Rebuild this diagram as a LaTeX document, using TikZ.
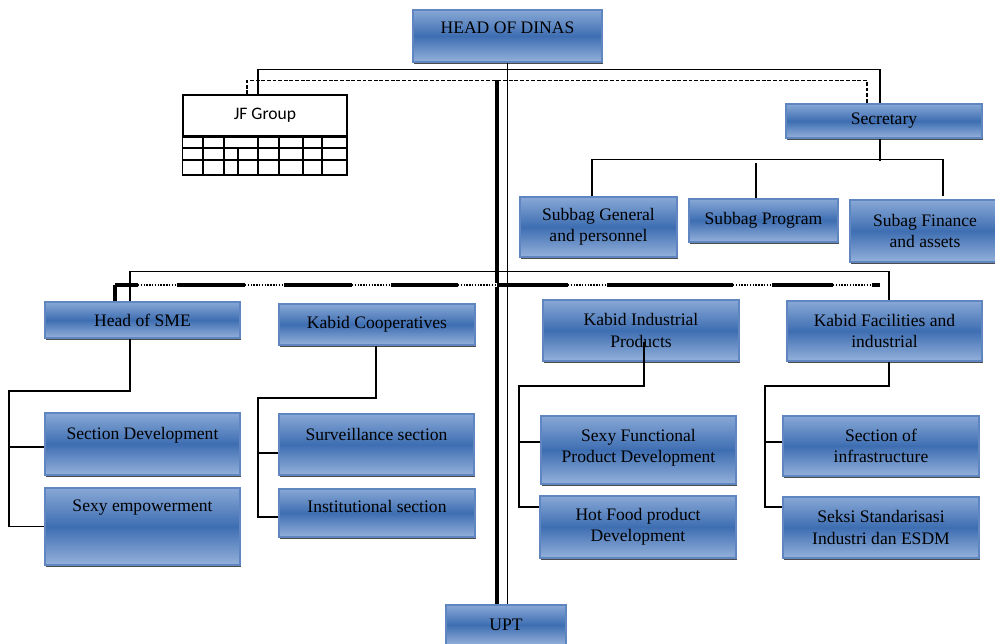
\documentclass[tikz,border=0pt]{standalone}
\usepackage{fontspec}
\setmainfont{Liberation Serif}
\newfontfamily\jffont{Carlito}
\usepackage{xcolor}
\usepackage{tikz}
\usetikzlibrary{calc,shadows}
\definecolor{boxmid}{RGB}{62,110,178}
\definecolor{boxlight}{RGB}{136,168,214}
\definecolor{boxedge}{RGB}{96,134,194}
\tikzset{
  unitbox/.style={rectangle, draw=boxedge, line width=0.6pt, top color=boxlight, bottom color=boxlight!90!white, middle color=boxmid, align=center, inner sep=2pt, font=\fontsize{10}{12}\selectfont, drop shadow={shadow xshift=0.8pt, shadow yshift=-0.9pt, fill=black!70, opacity=1}},
  conn/.style={draw=black, line width=0.85pt},
  thickconn/.style={draw=black, line width=1.9pt},
  dashconn/.style={draw=black, line width=0.85pt, dash pattern=on 2.2pt off 1pt},
  dotbus/.style={draw=black, line width=1.6pt, dash pattern=on 0.8pt off 0.8pt},
}

\begin{document}
\begin{tikzpicture}[x=0.02cm, y=-0.02cm]
  \useasboundingbox (0,0) rectangle (995,644);

  % Top level
  \node[unitbox, minimum width=3.78cm, minimum height=1.04cm] (head) at (507.5,36) {HEAD OF DINAS\\[-3pt]~};
  \node[draw, line width=0.85pt, minimum width=3.28cm, minimum height=0.82cm, font=\jffont\fontsize{10}{12}\selectfont] (jf) at (265,115.5) {JF Group\\[-2pt]~};
  \node[unitbox, minimum width=3.92cm, minimum height=0.68cm] (sec) at (884,121) {Secretary};

  % JF table
  \draw[line width=0.85pt] (jf.south west) rectangle (347,175);
  \draw[line width=1.6pt] (jf.south west) -- (jf.south east);
  \foreach \r in {148,160} {
    \draw[line width=0.85pt] (183,\r) -- (347,\r);
  }
  \foreach \c in {203,224,258,279,303,322} {
    \draw[line width=0.85pt] (\c,136) -- (\c,175);
  }
  \draw[line width=0.85pt] (238,148) -- (238,175);

  % Subbag under secretary
  \node[unitbox, minimum width=3.14cm, minimum height=1.2cm] (sgen) at (598.5,227) {Subbag General\\and personnel};
  \node[unitbox, minimum width=2.98cm, minimum height=0.86cm] (sprog) at (763.5,220.5) {Subbag Program};
  \node[unitbox, minimum width=3.0cm, minimum height=1.24cm] (sfin) at (925,231) {Subag Finance\\and assets};

  % Kabid level
  \node[unitbox, minimum width=3.9cm, minimum height=0.72cm] (sme) at (142.5,320) {Head of SME};
  \node[unitbox, minimum width=3.92cm, minimum height=0.82cm] (coop) at (377,324.5) {Kabid Cooperatives};
  \node[unitbox, minimum width=3.92cm, minimum height=1.22cm] (ind) at (641,330.5) {Kabid Industrial\\Products};
  \node[unitbox, minimum width=3.9cm, minimum height=1.2cm] (fac) at (884.5,331) {Kabid Facilities and\\industrial};

  % Sections
  \node[unitbox, minimum width=3.9cm, minimum height=1.24cm] (secdev) at (142.5,444) {Section Development\\~};
  \node[unitbox, minimum width=3.9cm, minimum height=1.54cm] (empow) at (142.5,526.5) {Sexy empowerment\\~\\~};
  \node[unitbox, minimum width=3.9cm, minimum height=1.22cm] (surv) at (376.5,444.5) {Surveillance section\\~};
  \node[unitbox, minimum width=3.92cm, minimum height=0.96cm] (inst) at (377,513) {Institutional section\\[-4pt]~};
  \node[unitbox, minimum width=3.9cm, minimum height=1.36cm] (func) at (638.5,450) {Sexy Functional\\Product Development\\[-7pt]~};
  \node[unitbox, minimum width=3.92cm, minimum height=1.24cm] (food) at (638,527) {Hot Food product\\Development};
  \node[unitbox, minimum width=3.92cm, minimum height=1.2cm] (infra) at (881,446) {Section of\\infrastructure};
  \node[unitbox, minimum width=3.92cm, minimum height=1.22cm] (std) at (881,527.5) {Seksi Standarisasi\\Industri dan ESDM};
  \node[unitbox, minimum width=2.4cm, minimum height=0.8cm] (upt) at (506,625) {UPT};

  % Head of dinas lines
  \draw[conn] ($(jf.north)+(-7,0)$) |- ($(head.south)+(-1.5,7)$) -| ($(sec.north)+(-4,0)$);
  \draw[dashconn] ($(jf.north)+(-18,0)$) |- ($(sec.north)+(-17,-23)$) -- ($(sec.north)+(-17,0)$);
  \draw[conn] (head.south) -- (head.south |- upt.north);
  \draw[thickconn] ($(upt.north)+(-9,0)$) -- ($(upt.north)+(-9,-524)$);

  % Secretary lines
  \draw[conn] ($(sec.south)+(-4,0)$) -- ($(sec.south)+(-4,22)$);
  \draw[conn] ($(sgen.north)+(-6.5,0)$) |- ($(sfin.north)+(18,-40)$) -- ($(sfin.north)+(18,-3)$);
  \draw[conn] ($(sprog.north)+(-7.5,0)$) -- ($(sprog.north)+(-7.5,-35)$);

  % Kabid buses
  \coordinate (bus) at (506,272);
  \draw[conn] ($(sme.north)+(-12.5,0)$) |- ($(fac.north)+(4.5,-29)$) -- ($(fac.north)+(4.5,0)$);
  \draw[conn] ($(coop.north)+(-1,0)$) -- ($(coop.north)+(-1,0)$ |- bus);
  \draw[conn] ($(ind.north)+(3,0)$) -- ($(ind.north)+(3,0)$ |- bus);
  \coordinate (tbusL) at (115,285);
  \coordinate (tbusR) at (880,285);
  \draw[thickconn] (tbusL) -- (tbusR);
  \foreach \a in {138,245,352,458,568,733,833} {
    \draw[white, line width=2.4pt] (\a,285) -- ++(39,0);
    \draw[dotbus] (\a,285) -- ++(39,0);
  }
  \draw[thickconn] (sme.north -| tbusL) -- (tbusL);
  \draw[thickconn] ($(coop.north)+(-14,0)$) -- ($(coop.north)+(-14,0)$ |- tbusL);
  \draw[thickconn] ($(ind.north)+(-11,0)$) -- ($(ind.north)+(-11,0)$ |- tbusL);

  % Section lines
  \coordinate (smebus) at (9,391);
  \draw[conn] ($(sme.south)+(-12.5,0)$) |- (smebus) |- (empow.west);
  \draw[conn] ($(secdev.west)+(0,3)$) -- ($(secdev.west)+(-36,3)$);
  \coordinate (coopbus) at (258,398);
  \draw[conn] ($(coop.south)+(-1,0)$) |- (coopbus) |- ($(inst.west)+(0,4)$);
  \draw[conn] ($(surv.west)+(0,8.5)$) -- ($(surv.west)+(-21,8.5)$);
  \coordinate (indbus) at (519,386);
  \draw[conn] ($(ind.south)+(3,-20)$) |- (indbus) |- ($(food.west)+(0,-20)$);
  \draw[conn] ($(func.west)+(0,-8)$) -- ($(func.west)+(-22.5,-8)$);
  \coordinate (facbus) at (765,386);
  \draw[conn] ($(fac.south)+(4.5,0)$) |- (facbus) |- ($(std.west)+(0,-20.5)$);
  \draw[conn] ($(infra.west)+(0,-4)$) -- ($(infra.west)+(-18,-4)$);

\end{tikzpicture}
\end{document}
